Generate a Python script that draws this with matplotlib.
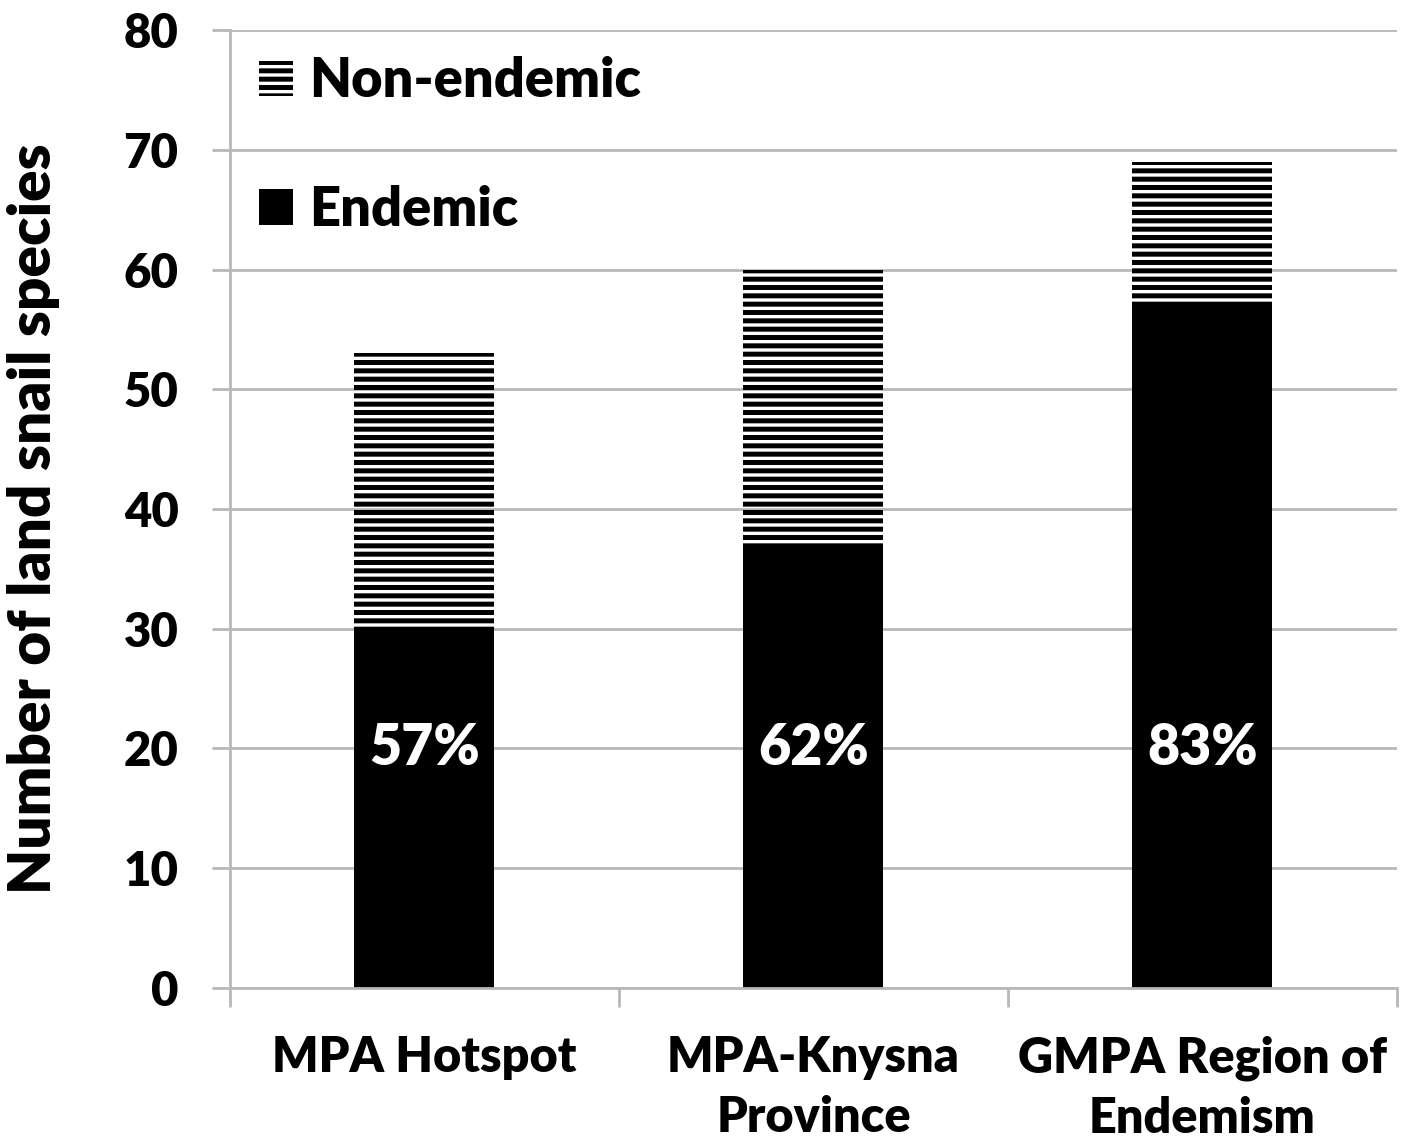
import matplotlib
matplotlib.use("Agg")
from matplotlib import pyplot as plt
import numpy as np

# data
categories = ["MPA Hotspot", "MPA-Knysna\nProvince", "GMPA Region of\nEndemism"]
endemic = [30, 37, 57]
nonEndemic = [23, 23, 12]
pctLabels = ["57%", "62%", "83%"]
yTicks = [0, 10, 20, 30, 40, 50, 60, 70, 80]

plt.rcParams["font.family"] = ["Lato", "DejaVu Sans"]
plt.rcParams["font.weight"] = "heavy"
plt.rcParams["hatch.linewidth"] = 3.6

gray = "#b8b8b8"
wt = "heavy"

def doPlot(output):
    fig = plt.figure(figsize=(14.04, 11.41), dpi=100)
    ax = fig.add_axes([0.1638, 0.1341, 0.995 - 0.1638, 0.9737 - 0.1341])
    x = np.arange(len(categories))
    w = 0.36

    ax.set_axisbelow(True)
    ax.yaxis.grid(True, color=gray, linewidth=2)

    b1 = ax.bar(x, endemic, width=w, color="black", label="Endemic", zorder=2)
    b2 = ax.bar(x, nonEndemic, width=w, bottom=endemic, facecolor="none",
                edgecolor="black", linewidth=0, hatch="--", label="Non-endemic", zorder=2)

    for xi, lab in zip(x, pctLabels):
        ax.text(xi, 20, lab, color="white", fontsize=40, fontweight=wt,
                ha="center", va="center", zorder=3)

    ax.set_xlim(-0.5, 2.5)
    ax.set_ylim(0, 80)
    ax.set_yticks(yTicks)
    ax.set_yticklabels([str(t) for t in yTicks], fontweight=wt)
    ax.tick_params(axis="y", labelsize=34, length=13, width=2, color=gray, pad=24)
    ax.set_xticks(x)
    ax.set_xticklabels(categories, fontsize=35, fontweight=wt, linespacing=1.4)
    ax.tick_params(axis="x", which="major", length=0, pad=34)
    ax.set_xticks([-0.5, 0.5, 1.5, 2.5], minor=True)
    ax.tick_params(axis="x", which="minor", length=14, width=2, color=gray)

    for s in ["top", "right"]:
        ax.spines[s].set_visible(False)
    for s in ["left", "bottom"]:
        ax.spines[s].set_color(gray)
        ax.spines[s].set_linewidth(2)

    ax.set_ylabel("Number of land snail species", fontsize=42, fontweight=wt)
    ax.yaxis.set_label_coords(-0.146, 0.49)

    ax.legend(handles=[b2, b1], loc="upper left", bbox_to_anchor=(0.006, 0.995),
              frameon=False, prop={"size": 39, "weight": wt},
              handlelength=0.63, handleheight=0.63,
              handletextpad=0.3, labelspacing=1.45, borderaxespad=0)

    fig.savefig(output, dpi=100)
    plt.close()

if __name__ == "__main__":
    doPlot("out.png")
